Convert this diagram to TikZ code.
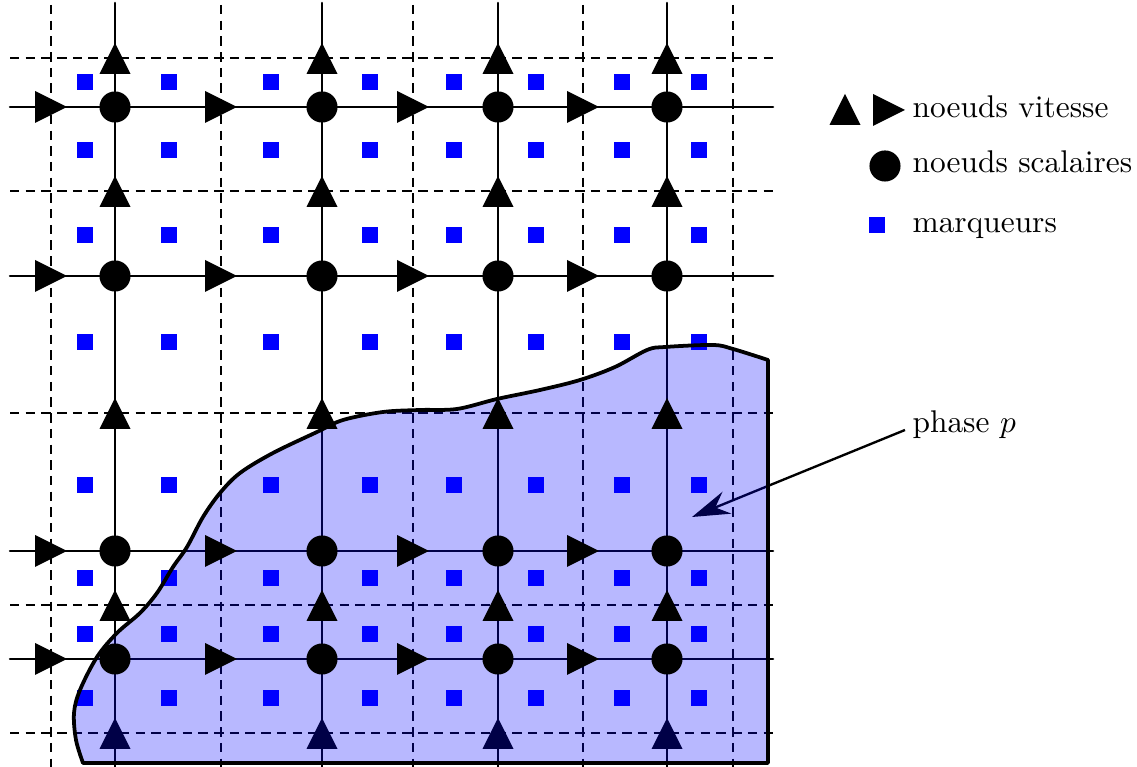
\documentclass[tikz,border=0pt]{standalone}
\usetikzlibrary{arrows.meta}
\def\PhaseOutline{(768,360) -- (768,763) -- (83,763) -- plot[smooth, tension=0.55] coordinates {(83,763) (76,740) (74,713) (80,690) (97,657) (117,633) (140,613) (157,593) (173,567) (187,547) (203,517) (220,493) (240,473) (273,453) (317,432) (343,420) (383,412) (420,410) (457,409) (497,399) (540,390) (580,380) (615,367) (647,350) (665,347) (713,345) (733,349) (768,360)} -- cycle}
\begin{document}
\begin{tikzpicture}[x=0.3185pt,y=-0.3185pt,
  gridline/.style={line width=0.8pt, line cap=round},
  dashline/.style={line width=0.6pt, dash pattern=on 3pt off 2pt},
  marker/.style={rectangle, fill=blue, inner sep=0pt, minimum size=5pt},
  scalar/.style={circle, fill=black, inner sep=0pt, minimum size=9.9pt},
  legtext/.style={anchor=base west, inner sep=0pt, font=\normalsize},
  vtri/.pic={\fill (-15.5,16) -- (15.5,16) -- (0,-15) -- cycle;},
  htri/.pic={\fill (-16,-16) -- (-16,16) -- (16,0) -- cycle;},
  phasefill/.style={fill=blue, fill opacity=0.28},
  phaseline/.style={line width=1.2pt, line join=round}
]
\useasboundingbox (0,0) rectangle (1137,767);
% dashed cell faces
\foreach \x in {51,221,413,583,733} \draw[dashline] (\x,5) -- (\x,767);
\foreach \y in {58,191,413,605,733} \draw[dashline] (10,\y) -- (773,\y);
% solid grid lines
\foreach \x in {115,322,498,667} \draw[gridline] (\x,3) -- (\x,767);
\foreach \y in {107,276,551,659} \draw[gridline] (10,\y) -- (773,\y);
% markers
\foreach \x [count=\i] in {85,169,271,370,454,536,622,699}
  \foreach \y [count=\j] in {82,150,235,342,485,578,634,698}
    \node[marker] (m\i-\j) at (\x,\y) {};
% bottom row of velocity nodes (under the phase)
\foreach \x in {115,322,498,667} \pic (vb\x) at (\x,733) {vtri};
% arrow to phase
\coordinate (pstart) at (905,430);
\coordinate (ptip) at (692,517);
\draw[line width=0.75pt, -{Stealth[length=12pt, width=7.5pt, inset=4pt]}] (pstart) -- (ptip);
% phase fill
\fill[phasefill] \PhaseOutline;
% velocity nodes
\foreach \x in {115,322,498,667}
  \foreach \y in {58,191,413,605}
    \pic (v\x-\y) at (\x,\y) {vtri};
\foreach \x in {51,221,413,583}
  \foreach \y in {107,276,551,659}
    \pic (h\x-\y) at (\x,\y) {htri};
% scalar nodes
\foreach \x in {115,322,498,667}
  \foreach \y in {107,276,551,659}
    \node[scalar] (s\x-\y) at (\x,\y) {};
% phase boundary
\draw[phaseline] \PhaseOutline;
% legend
\pic (lv) at (845,109) {vtri};
\pic (lh) at (889,110) {htri};
\node[scalar] (ls) at (885,166) {};
\node[marker] (lm) at (877,225) {};
\node[legtext] (t1) at (912,118) {noeuds vitesse};
\node[legtext] (t2) at (912,173) {noeuds scalaires};
\node[legtext] (t3) at (912,233) {marqueurs};
\node[legtext] (t4) at (912,433) {phase $p$};
\end{tikzpicture}
\end{document}
